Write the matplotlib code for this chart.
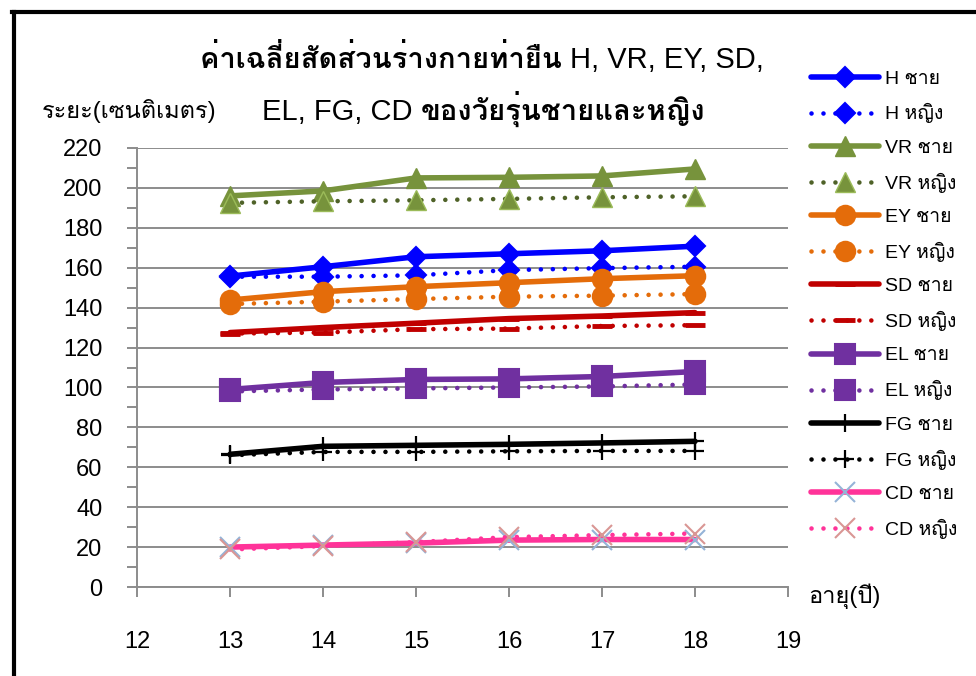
import matplotlib
matplotlib.use("Agg")
import matplotlib.pyplot as plt
from matplotlib import font_manager
from matplotlib.ft2font import FT2Font
from matplotlib.lines import Line2D
from matplotlib.ticker import MultipleLocator

ages = [13, 14, 15, 16, 17, 18]

h_male = [155.8, 160.5, 165.5, 167.0, 168.5, 170.8]
h_female = [155.5, 155.5, 156.2, 158.8, 159.8, 160.5]
vr_male = [196.0, 198.5, 205.0, 205.3, 206.0, 209.5]
vr_female = [192.5, 193.3, 193.8, 194.5, 195.3, 195.8]
ey_male = [143.8, 148.0, 150.5, 152.5, 154.5, 156.0]
ey_female = [141.8, 143.0, 144.3, 145.5, 146.0, 146.8]
sd_male = [127.5, 130.0, 132.2, 134.5, 135.8, 137.5]
sd_female = [127.0, 127.5, 129.2, 129.5, 130.8, 131.2]
el_male = [99.0, 102.5, 104.0, 104.3, 105.5, 108.0]
el_female = [98.0, 99.0, 99.5, 100.0, 100.5, 101.5]
fg_male = [66.5, 70.5, 71.0, 71.5, 72.2, 73.0]
fg_female = [66.0, 67.7, 67.7, 68.0, 68.2, 68.2]
cd_male = [20.0, 21.0, 22.0, 23.5, 23.8, 23.8]
cd_female = [18.8, 20.5, 22.5, 25.0, 26.0, 26.8]

x_ticks = [12, 13, 14, 15, 16, 17, 18, 19]
y_ticks = [0, 20, 40, 60, 80, 100, 120, 140, 160, 180, 200, 220]

title_line1 = [("ค่าเฉลี่ยสัดส่วนร่างกายท่ายืน ", "bold"), ("H, VR, EY, SD,", "normal")]
title_line2 = [("EL, FG, CD ", "normal"), ("ของวัยรุ่นชายและหญิง", "bold")]
y_title = "ระยะ(เซนติเมตร)"
x_title = "อายุ(ปี)"


def find_thai_font():
    # first installed font that has Thai letters
    for f in font_manager.fontManager.ttflist:
        try:
            cmap = FT2Font(f.fname).get_charmap()
        except Exception:
            continue
        if 0x0E0A in cmap and 0x0E0D in cmap:
            return f.name
    return None


thai = find_thai_font()
families = ["Liberation Sans"] + ([thai] if thai else []) + ["DejaVu Sans"]
plt.rcParams["font.family"] = families

DOT = (0, (0.01, 2.6))

# label, values, line colour, linestyle, marker, marker face, marker edge, marker size
series = [
    ("H ชาย", h_male, "#0000FF", "-", "D", "#0000FF", "#0000FF", 10),
    ("H หญิง", h_female, "#0000FF", DOT, "D", "#0000FF", "#0000FF", 10),
    ("VR ชาย", vr_male, "#77933C", "-", "^", "#77933C", "#77933C", 14),
    ("VR หญิง", vr_female, "#4F6228", DOT, "^", "#77933C", "#9BBB59", 14),
    ("EY ชาย", ey_male, "#E46C0A", "-", "o", "#E46C0A", "#E46C0A", 14),
    ("EY หญิง", ey_female, "#E46C0A", DOT, "o", "#E46C0A", "#E46C0A", 14),
    ("SD ชาย", sd_male, "#C00000", "-", "_", "#C00000", "#C00000", 14),
    ("SD หญิง", sd_female, "#C00000", DOT, "_", "#C00000", "#C00000", 14),
    ("EL ชาย", el_male, "#7030A0", "-", "s", "#7030A0", "#7030A0", 14.5),
    ("EL หญิง", el_female, "#7030A0", DOT, "s", "#7030A0", "#7030A0", 14.5),
    ("FG ชาย", fg_male, "#000000", "-", "+", "#000000", "#000000", 13),
    ("FG หญิง", fg_female, "#000000", DOT, "+", "#000000", "#000000", 13),
    ("CD ชาย", cd_male, "#FF3399", "-", "x", "#95B3D7", "#95B3D7", 14),
    ("CD หญิง", cd_female, "#FF3399", DOT, "x", "#D99694", "#D99694", 14),
]

fig = plt.figure(figsize=(9.76, 6.76), dpi=100)
ax = fig.add_axes([137 / 976, 1 - 587 / 676, (788 - 137) / 976, (587 - 148) / 676])

for label, vals, color, ls, mk, mfc, mec, ms in series:
    mew = 1.5
    if mk == "_":
        mew = 3.5
    elif mk == "+":
        mew = 1.6
    elif mk == "^":
        mew = 1.0
    lw = 4.0 if ls == "-" else 3.3
    ax.plot(ages, vals, color=color, linestyle=ls, linewidth=lw,
            dash_capstyle="round", solid_capstyle="round",
            marker=mk, markersize=ms, markerfacecolor=mfc, markeredgecolor=mec,
            markeredgewidth=mew, label=label, clip_on=False)

ax.set_xlim(12, 19)
ax.set_ylim(0, 220)
ax.set_xticks(x_ticks)
ax.set_yticks(y_ticks)
ax.yaxis.set_minor_locator(MultipleLocator(10))
ax.grid(axis="y", which="major", color="#8c8c8c", linewidth=1.4)
ax.set_axisbelow(True)
for side in ["top", "right"]:
    ax.spines[side].set_visible(False)
for side in ["left", "bottom"]:
    ax.spines[side].set_color("#8c8c8c")
    ax.spines[side].set_linewidth(1.4)
ax.tick_params(axis="both", which="both", direction="out", length=7, width=1.4, color="#8c8c8c")
ax.tick_params(axis="y", which="major", labelsize=17, pad=18)
ax.tick_params(axis="x", which="major", labelsize=17, pad=25)

# legend on the right, no frame
ax.legend(loc="upper left", bbox_to_anchor=(811 / 976, 1 - 70 / 676), bbox_transform=fig.transFigure,
          frameon=False, fontsize=14, handlelength=3.5, handletextpad=0.3, labelspacing=0.81,
          borderpad=0, borderaxespad=0)

# axis titles
fig.text(42 / 976, 1 - 118 / 676, y_title, fontsize=17, ha="left", va="baseline")
fig.text(808 / 976, 1 - 603 / 676, x_title, fontsize=17, ha="left", va="baseline")

# title in two lines, mixed weight: each piece starts where the previous ends
for parts, left_px, base_px in [(title_line1, 200, 68), (title_line2, 262, 120)]:
    last = None
    for s, w in parts:
        if last is None:
            last = fig.text(left_px / 976, 1 - base_px / 676, s, fontsize=21, fontweight=w,
                            ha="left", va="baseline")
        else:
            last = ax.annotate(s, xy=(1, 676 - base_px), xycoords=(last, "figure pixels"),
                               fontsize=21, fontweight=w, ha="left", va="baseline",
                               annotation_clip=False)

# frame around the chart (cut on right and bottom)
fig.add_artist(Line2D([14 / 976, 14 / 976], [0, 1 - 12 / 676], transform=fig.transFigure, color="black", linewidth=3))
fig.add_artist(Line2D([12 / 976, 1], [1 - 12 / 676, 1 - 12 / 676], transform=fig.transFigure, color="black", linewidth=3))

fig.savefig("out.png", dpi=100)
